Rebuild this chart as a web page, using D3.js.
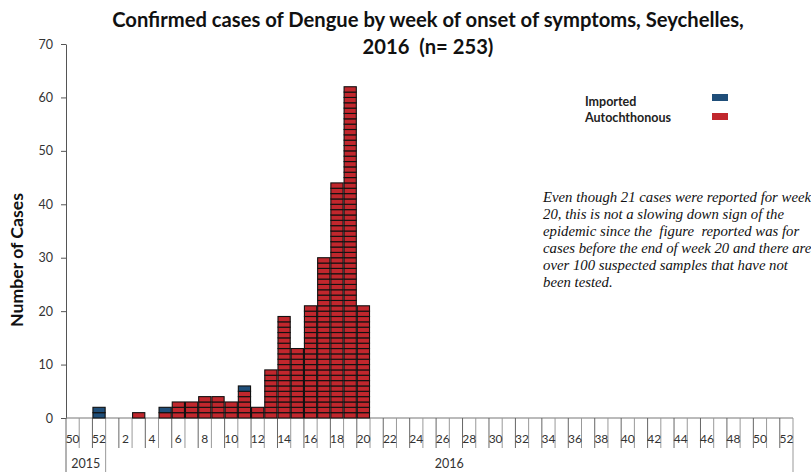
<!DOCTYPE html>
<html>
<head>
<meta charset="utf-8">
<script src="https://cdn.jsdelivr.net/npm/d3@7"></script>
<style>
  html, body { margin: 0; padding: 0; background: #fff; }
  svg { display: block; }
  svg text { white-space: pre; }
</style>
</head>
<body>
<svg id="chart" width="811" height="472"></svg>
<script>
// ---- Data ----
const weekLabels = ["50","51","52",
  "1","2","3","4","5","6","7","8","9","10","11","12","13","14","15","16","17","18","19","20",
  "21","22","23","24","25","26","27","28","29","30","31","32","33","34","35","36","37","38","39","40",
  "41","42","43","44","45","46","47","48","49","50","51","52"];
const yearOf = ["2015","2015","2015",
  "2016","2016","2016","2016","2016","2016","2016","2016","2016","2016","2016","2016","2016","2016","2016","2016","2016","2016","2016","2016",
  "2016","2016","2016","2016","2016","2016","2016","2016","2016","2016","2016","2016","2016","2016","2016","2016","2016","2016","2016","2016",
  "2016","2016","2016","2016","2016","2016","2016","2016","2016","2016","2016","2016"];
const autochthonous = [0,0,0,
  0,0,1,0,1,3,3,4,4,3,5,2,9,19,13,21,30,44,62,21,
  0,0,0,0,0,0,0,0,0,0,0,0,0,0,0,0,0,0,0,0,
  0,0,0,0,0,0,0,0,0,0,0,0];
const imported = [0,0,2,
  0,0,0,0,1,0,0,0,0,0,1,0,0,0,0,0,0,0,0,0,
  0,0,0,0,0,0,0,0,0,0,0,0,0,0,0,0,0,0,0,0,
  0,0,0,0,0,0,0,0,0,0,0,0];
const yTicks = [0,10,20,30,40,50,60,70];
const years = ["2015","2016"];
const seriesNames = ["Imported","Autochthonous"];
const titleLines = ["Confirmed cases of Dengue by week of onset of symptoms, Seychelles,", "2016  (n= 253)"];
const noteLines = [
  "Even though 21 cases were reported for week",
  "20, this is not a slowing down sign of the",
  "epidemic since the  figure  reported was for",
  "cases before the end of week 20 and there are",
  "over 100 suspected samples that have not",
  "been tested."
];

(function () {
// ---- Layout ----
const COL_RED = "#c1272d", COL_BLUE = "#1f4e79";
const sansFont = "Lato, 'Open Sans', 'Liberation Sans', sans-serif";
const svg = d3.select("#chart");
const pl = 66, pr = 793, pt = 44, pb = 418;
const idx = d3.range(weekLabels.length);
const x = d3.scaleBand().domain(idx).range([pl, pr]).padding(0);
const y = d3.scaleLinear().domain([0, 70]).range([pb, pt]);

function fit(sel, target) {
  const fs = parseFloat(sel.attr("font-size"));
  const w = sel.node().getComputedTextLength();
  sel.attr("font-size", (fs * target / w).toFixed(2));
}

// Title
const t1 = svg.append("text").attr("x", 428).attr("y", 27).attr("text-anchor", "middle")
  .attr("font-family", sansFont).attr("font-weight", "bold").attr("font-size", 18)
  .attr("fill", "#111").text(titleLines[0]);
fit(t1, 632);
svg.append("text").attr("x", 428).attr("y", 54).attr("text-anchor", "middle")
  .attr("font-family", sansFont).attr("font-weight", "bold").attr("font-size", t1.attr("font-size"))
  .attr("fill", "#111").text(titleLines[1]);

// Y axis
const yAxis = svg.append("g").attr("transform", `translate(${pl},0)`)
  .call(d3.axisLeft(y).tickValues(yTicks).tickSize(5).tickPadding(8).tickSizeOuter(0));
yAxis.select(".domain").attr("stroke", "#555");
yAxis.selectAll(".tick line").attr("stroke", "#555");
yAxis.selectAll(".tick text").attr("font-family", sansFont).attr("font-size", 12.5).attr("fill", "#333");

// Y label
const yl = svg.append("text").attr("transform", "translate(23,260) rotate(-90)")
  .attr("text-anchor", "middle").attr("font-family", sansFont).attr("font-weight", "bold")
  .attr("font-size", 14).attr("fill", "#111").text("Number of Cases");
fit(yl, 134);

// X axis (multi-level categories)
const xg = svg.append("g");
xg.append("line").attr("x1", pl).attr("x2", pr).attr("y1", pb).attr("y2", pb)
  .attr("stroke", "#777");
const n = weekLabels.length;
const bounds = d3.range(n + 1).map(i => i < n ? x(i) : x(i - 1) + x.bandwidth());
xg.selectAll("line.tk").data(bounds).join("line").attr("class", "tk")
  .attr("x1", d => d).attr("x2", d => d).attr("y1", pb)
  .attr("y2", (d, i) => (i === 0 || i === n || yearOf[i] !== yearOf[i - 1]) ? 472 : 448)
  .attr("stroke", (d, i) => i % 2 === 0 ? "#666" : "#999").attr("stroke-width", 1);
xg.selectAll("text.wk").data(idx.filter(i => i % 2 === 0)).join("text").attr("class", "wk")
  .attr("x", i => x(i) + x.bandwidth() / 2).attr("y", 443).attr("text-anchor", "middle")
  .attr("font-family", sansFont).attr("font-size", 12).attr("fill", "#333")
  .text(i => weekLabels[i]);
xg.selectAll("text.yr").data(years).join("text").attr("class", "yr")
  .attr("x", yr => {
    const ii = idx.filter(i => yearOf[i] === yr);
    return (x(ii[0]) + x(ii[ii.length - 1]) + x.bandwidth()) / 2;
  })
  .attr("y", 468).attr("text-anchor", "middle")
  .attr("font-family", sansFont).attr("font-size", 12.5).attr("fill", "#333").text(d => d);

// Bars: one box per case
const units = [];
idx.forEach(i => {
  for (let k = 0; k < autochthonous[i]; k++) units.push({ i, k, c: COL_RED });
  for (let k = 0; k < imported[i]; k++) units.push({ i, k: autochthonous[i] + k, c: COL_BLUE });
});
svg.append("g").selectAll("rect").data(units).join("rect")
  .attr("x", d => x(d.i) + 0.5)
  .attr("y", d => y(d.k + 1))
  .attr("width", x.bandwidth() - 1)
  .attr("height", d => y(d.k) - y(d.k + 1))
  .attr("fill", d => d.c).attr("stroke", "#111").attr("stroke-width", 1.1);

// Legend
const lg = svg.append("g");
const legCols = [COL_BLUE, COL_RED];
seriesNames.forEach((s, j) => {
  lg.append("text").attr("x", 585).attr("y", 106 + j * 16).attr("font-family", sansFont)
    .attr("font-weight", "bold").attr("font-size", 12.5).attr("fill", "#222").text(s);
  lg.append("rect").attr("x", 712).attr("y", 94 + j * 19).attr("width", 16).attr("height", 7)
    .attr("fill", legCols[j]);
});

// Note
const ng = svg.append("g");
let noteFs = 13;
noteLines.forEach((s, j) => {
  const t = ng.append("text").attr("x", 543).attr("y", 202 + j * 17)
    .attr("font-family", "'Liberation Serif', 'DejaVu Serif', serif").attr("font-style", "italic")
    .attr("font-size", 13).attr("fill", "#111").text(s);
  if (j === 0) { fit(t, 268); noteFs = t.attr("font-size"); }
  else t.attr("font-size", noteFs);
});
})();
</script>
</body>
</html>
